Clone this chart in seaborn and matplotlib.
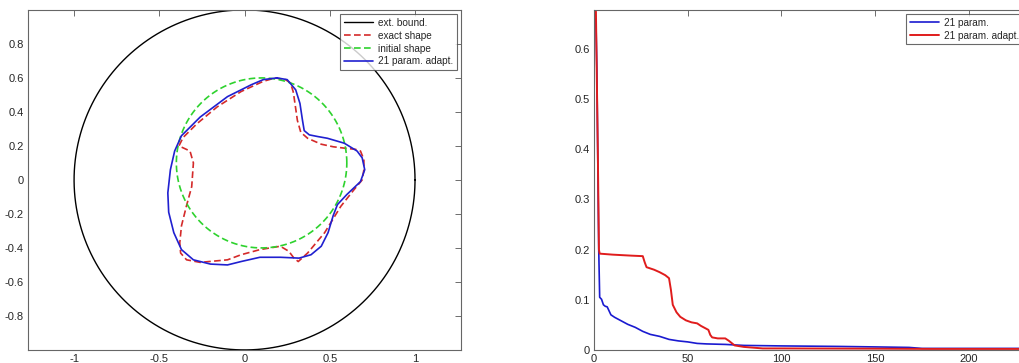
import matplotlib

matplotlib.use("Agg")
import matplotlib.pyplot as plt
import numpy as np
import seaborn as sns

# ---------------------------------------------------------------------------
# Data
# ---------------------------------------------------------------------------

# left panel: shapes in the plane
ext_center = (0.0, 0.0)
ext_radius = 1.0
init_center = (0.1, 0.1)
init_radius = 0.5

exact_x = [0.18, 0.24, 0.27, 0.285, 0.29, 0.30, 0.31, 0.33, 0.37, 0.45, 0.52, 0.585, 0.65,
           0.68, 0.70, 0.70, 0.69, 0.64, 0.565, 0.47, 0.37, 0.315, 0.29, 0.26, 0.21, 0.09,
           -0.02, -0.10, -0.26, -0.34, -0.375, -0.38, -0.37, -0.34, -0.31, -0.30, -0.32,
           -0.385, -0.36, -0.28, -0.16, -0.02, 0.11, 0.18]
exact_y = [0.60, 0.59, 0.57, 0.52, 0.49, 0.42, 0.35, 0.28, 0.245, 0.21, 0.195, 0.187, 0.18,
           0.17, 0.12, 0.06, 0.00, -0.06, -0.155, -0.31, -0.43, -0.48, -0.46, -0.42, -0.39,
           -0.41, -0.44, -0.47, -0.485, -0.47, -0.43, -0.37, -0.27, -0.15, -0.04, 0.10,
           0.17, 0.20, 0.25, 0.33, 0.43, 0.52, 0.58, 0.60]

adapt_x = [0.19, 0.25, 0.30, 0.325, 0.34, 0.35, 0.38, 0.43, 0.486, 0.585, 0.66, 0.69, 0.705,
           0.68, 0.60, 0.545, 0.52, 0.49, 0.45, 0.39, 0.32, 0.21, 0.09, -0.02, -0.10, -0.20,
           -0.30, -0.37, -0.415, -0.445, -0.45, -0.435, -0.41, -0.37, -0.26, -0.10, 0.04,
           0.11, 0.19]
adapt_y = [0.60, 0.59, 0.53, 0.45, 0.35, 0.29, 0.265, 0.255, 0.245, 0.216, 0.17, 0.13, 0.06,
           -0.01, -0.086, -0.145, -0.21, -0.31, -0.39, -0.44, -0.46, -0.455, -0.455, -0.48,
           -0.50, -0.495, -0.47, -0.41, -0.31, -0.19, -0.076, 0.06, 0.17, 0.26, 0.37, 0.49,
           0.56, 0.59, 0.60]

# right panel: convergence history
iter_plain = [1, 1.5, 2, 2.5, 3, 4, 5, 6, 7, 8, 9, 11, 14, 18, 22, 26, 30, 35, 40, 45, 50,
              55, 60, 70, 80, 100, 130, 150, 168, 175, 231]
cost_plain = [0.66, 0.56, 0.38, 0.20, 0.105, 0.101, 0.090, 0.087, 0.086, 0.078, 0.070,
              0.065, 0.059, 0.051, 0.045, 0.037, 0.031, 0.027, 0.021, 0.018, 0.016, 0.013,
              0.012, 0.011, 0.009, 0.008, 0.007, 0.006, 0.005, 0.003, 0.003]

iter_adapt = [1, 2, 2.6, 3, 10, 20, 26, 27, 28, 32, 35, 38, 40, 41, 42, 44, 46, 49, 52, 55,
              57, 61, 62, 63, 66, 70, 72, 75, 80, 90, 100, 150, 180, 231]
cost_adapt = [0.675, 0.40, 0.20, 0.192, 0.190, 0.188, 0.187, 0.175, 0.165, 0.160, 0.155,
              0.149, 0.143, 0.120, 0.090, 0.075, 0.066, 0.059, 0.055, 0.053, 0.048, 0.040,
              0.030, 0.025, 0.023, 0.023, 0.018, 0.009, 0.006, 0.003, 0.003, 0.0025, 0.002,
              0.002]

# ---------------------------------------------------------------------------

sns.set_style("white")
plt.rcParams["font.family"] = ["Liberation Sans", "DejaVu Sans"]
plt.rcParams["axes.unicode_minus"] = False

fig = plt.figure(figsize=(10.2, 3.63), dpi=100)
ax1 = fig.add_axes([0.0275, 0.036, 0.4245, 0.9367])
ax2 = fig.add_axes([0.5824, 0.036, 0.4245, 0.9367])

theta = np.linspace(0, 2 * np.pi, 400)

sns.lineplot(x=ext_center[0] + ext_radius * np.cos(theta),
             y=ext_center[1] + ext_radius * np.sin(theta),
             sort=False, estimator=None, color="black", lw=1.0,
             label="ext. bound.", ax=ax1)
sns.lineplot(x=exact_x, y=exact_y, sort=False, estimator=None, color="#d42a2a",
             lw=1.2, label="exact shape", ax=ax1)
sns.lineplot(x=init_center[0] + init_radius * np.cos(theta),
             y=init_center[1] + init_radius * np.sin(theta),
             sort=False, estimator=None, color="#2ed22e", lw=1.2,
             label="initial shape", ax=ax1)
sns.lineplot(x=adapt_x, y=adapt_y, sort=False, estimator=None, color="#2020d0",
             lw=1.2, label="21 param. adapt.", ax=ax1)
for ln in ax1.lines:
    ln.set_solid_joinstyle("round")
ax1.lines[1].set_linestyle((0, (4, 2)))
ax1.lines[2].set_linestyle((0, (4, 2)))

ax1.set_xlim(-1.27, 1.27)
ax1.set_ylim(-1.0, 1.0)
ax1.set_xticks([-1, -0.5, 0, 0.5, 1])
ax1.set_xticklabels(["-1", "-0.5", "0", "0.5", "1"])
ax1.set_yticks([-0.8, -0.6, -0.4, -0.2, 0, 0.2, 0.4, 0.6, 0.8])
ax1.set_yticklabels(["-0.8", "-0.6", "-0.4", "-0.2", "0", "0.2", "0.4", "0.6", "0.8"])

sns.lineplot(x=iter_plain, y=cost_plain, sort=False, estimator=None, color="#1a1ad0",
             lw=1.2, label="21 param.", ax=ax2)
sns.lineplot(x=iter_adapt, y=cost_adapt, sort=False, estimator=None, color="#e01c1c",
             lw=1.4, label="21 param. adapt.", ax=ax2)
ax2.set_xlim(0, 231)
ax2.set_ylim(0, 0.678)
ax2.set_xticks([0, 50, 100, 150, 200])
ax2.set_xticklabels(["0", "50", "100", "150", "200"])
ax2.set_yticks([0, 0.1, 0.2, 0.3, 0.4, 0.5, 0.6])
ax2.set_yticklabels(["0", "0.1", "0.2", "0.3", "0.4", "0.5", "0.6"])

for ax in (ax1, ax2):
    ax.set_xlabel("")
    ax.set_ylabel("")
    ax.tick_params(direction="in", length=4, width=0.6, color="#555555",
                   top=True, right=True, labelsize=8, pad=3)
    for s in ax.spines.values():
        s.set_color("#666666")
        s.set_linewidth(0.8)
    leg = ax.legend(loc="upper right", fontsize=7.2, frameon=True, fancybox=False,
                    edgecolor="#444444", handlelength=2.9, borderaxespad=0.45,
                    labelspacing=0.28, borderpad=0.35, handletextpad=0.5)
    leg.get_frame().set_linewidth(0.8)

fig.savefig("out.png", dpi=100)
